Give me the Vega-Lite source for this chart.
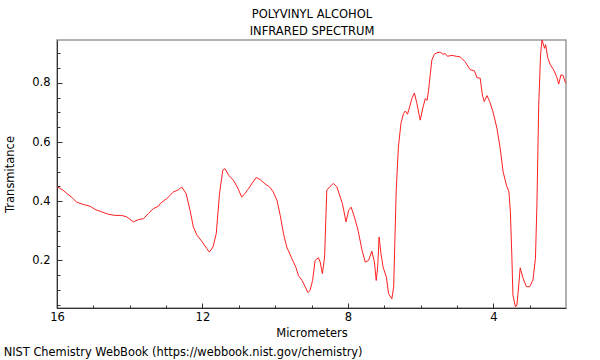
{
  "$schema": "https://vega.github.io/schema/vega-lite/v6.json",
  "width": 509,
  "height": 268,
  "autosize": "none",
  "padding": {"left": 57, "top": 40, "right": 34, "bottom": 52},
  "background": "white",
  "config": {
    "font": "DejaVu Sans",
    "view": {"stroke": "#999999", "strokeWidth": 1.5},
    "axis": {"labelFont": "DejaVu Sans", "titleFont": "DejaVu Sans", "labelColor": "#000000", "titleColor": "#000000", "titleFontWeight": "normal", "labelFontSize": 11.5, "titleFontSize": 11.5, "domainColor": "#333333", "tickColor": "#333333", "grid": false}
  },
  "title": {
    "text": "NIST Chemistry WebBook (https://webbook.nist.gov/chemistry)",
    "orient": "bottom",
    "anchor": "start",
    "frame": "bounds",
    "font": "DejaVu Sans",
    "fontSize": 11.4,
    "fontWeight": "normal",
    "color": "#000000",
    "offset": 8,
    "dx": -1
  },
  "data": {
    "values": [
      {"um": 16.0, "t": 0.45}, {"um": 15.98, "t": 0.448}, {"um": 15.83, "t": 0.437}, {"um": 15.73, "t": 0.426},
      {"um": 15.6, "t": 0.414}, {"um": 15.46, "t": 0.397}, {"um": 15.28, "t": 0.389}, {"um": 15.18, "t": 0.386},
      {"um": 15.09, "t": 0.383}, {"um": 14.95, "t": 0.372}, {"um": 14.77, "t": 0.364}, {"um": 14.59, "t": 0.356},
      {"um": 14.4, "t": 0.352}, {"um": 14.22, "t": 0.352}, {"um": 14.08, "t": 0.347}, {"um": 13.9, "t": 0.33},
      {"um": 13.76, "t": 0.338}, {"um": 13.62, "t": 0.341}, {"um": 13.49, "t": 0.358}, {"um": 13.35, "t": 0.375},
      {"um": 13.21, "t": 0.383}, {"um": 13.16, "t": 0.392}, {"um": 13.05, "t": 0.403}, {"um": 12.98, "t": 0.409},
      {"um": 12.8, "t": 0.431}, {"um": 12.66, "t": 0.439}, {"um": 12.57, "t": 0.448}, {"um": 12.45, "t": 0.426},
      {"um": 12.34, "t": 0.369}, {"um": 12.25, "t": 0.313}, {"um": 12.15, "t": 0.285}, {"um": 12.02, "t": 0.265},
      {"um": 11.88, "t": 0.24}, {"um": 11.81, "t": 0.228}, {"um": 11.71, "t": 0.245}, {"um": 11.62, "t": 0.29},
      {"um": 11.53, "t": 0.426}, {"um": 11.44, "t": 0.505}, {"um": 11.38, "t": 0.51}, {"um": 11.28, "t": 0.488},
      {"um": 11.15, "t": 0.471}, {"um": 11.04, "t": 0.448}, {"um": 10.92, "t": 0.414}, {"um": 10.83, "t": 0.426},
      {"um": 10.73, "t": 0.443}, {"um": 10.61, "t": 0.465}, {"um": 10.52, "t": 0.48}, {"um": 10.41, "t": 0.473},
      {"um": 10.27, "t": 0.458}, {"um": 10.15, "t": 0.448}, {"um": 10.05, "t": 0.431}, {"um": 9.95, "t": 0.403},
      {"um": 9.86, "t": 0.352}, {"um": 9.77, "t": 0.29}, {"um": 9.68, "t": 0.245}, {"um": 9.54, "t": 0.206},
      {"um": 9.43, "t": 0.177}, {"um": 9.36, "t": 0.149}, {"um": 9.26, "t": 0.132}, {"um": 9.17, "t": 0.11},
      {"um": 9.1, "t": 0.091}, {"um": 9.04, "t": 0.098}, {"um": 8.97, "t": 0.132}, {"um": 8.9, "t": 0.2},
      {"um": 8.81, "t": 0.209}, {"um": 8.76, "t": 0.194}, {"um": 8.7, "t": 0.155}, {"um": 8.64, "t": 0.211},
      {"um": 8.58, "t": 0.437}, {"um": 8.49, "t": 0.45}, {"um": 8.4, "t": 0.46}, {"um": 8.3, "t": 0.448},
      {"um": 8.21, "t": 0.414}, {"um": 8.15, "t": 0.392}, {"um": 8.05, "t": 0.33}, {"um": 7.98, "t": 0.369},
      {"um": 7.91, "t": 0.38}, {"um": 7.82, "t": 0.347}, {"um": 7.72, "t": 0.302}, {"um": 7.61, "t": 0.234},
      {"um": 7.52, "t": 0.194}, {"um": 7.43, "t": 0.2}, {"um": 7.34, "t": 0.231}, {"um": 7.27, "t": 0.195},
      {"um": 7.22, "t": 0.132}, {"um": 7.18, "t": 0.177}, {"um": 7.14, "t": 0.279}, {"um": 7.09, "t": 0.223},
      {"um": 7.03, "t": 0.177}, {"um": 6.94, "t": 0.143}, {"um": 6.88, "t": 0.087}, {"um": 6.79, "t": 0.07},
      {"um": 6.74, "t": 0.11}, {"um": 6.67, "t": 0.437}, {"um": 6.61, "t": 0.583}, {"um": 6.54, "t": 0.663},
      {"um": 6.47, "t": 0.696}, {"um": 6.42, "t": 0.705}, {"um": 6.36, "t": 0.694}, {"um": 6.3, "t": 0.719},
      {"um": 6.24, "t": 0.747}, {"um": 6.17, "t": 0.766}, {"um": 6.1, "t": 0.73}, {"um": 6.01, "t": 0.674},
      {"um": 5.93, "t": 0.719}, {"um": 5.87, "t": 0.747}, {"um": 5.82, "t": 0.741}, {"um": 5.78, "t": 0.775},
      {"um": 5.73, "t": 0.832}, {"um": 5.69, "t": 0.877}, {"um": 5.62, "t": 0.897}, {"um": 5.55, "t": 0.902},
      {"um": 5.46, "t": 0.904}, {"um": 5.38, "t": 0.897}, {"um": 5.32, "t": 0.899}, {"um": 5.26, "t": 0.89},
      {"um": 5.14, "t": 0.893}, {"um": 5.02, "t": 0.89}, {"um": 4.91, "t": 0.888}, {"um": 4.77, "t": 0.871},
      {"um": 4.64, "t": 0.845}, {"um": 4.52, "t": 0.841}, {"um": 4.45, "t": 0.818}, {"um": 4.36, "t": 0.816},
      {"um": 4.3, "t": 0.759}, {"um": 4.25, "t": 0.737}, {"um": 4.17, "t": 0.757}, {"um": 4.1, "t": 0.737},
      {"um": 4.01, "t": 0.703}, {"um": 3.9, "t": 0.647}, {"um": 3.81, "t": 0.579}, {"um": 3.73, "t": 0.5},
      {"um": 3.64, "t": 0.455}, {"um": 3.57, "t": 0.432}, {"um": 3.53, "t": 0.365}, {"um": 3.49, "t": 0.218},
      {"um": 3.46, "t": 0.083}, {"um": 3.39, "t": 0.043}, {"um": 3.35, "t": 0.049}, {"um": 3.3, "t": 0.116},
      {"um": 3.26, "t": 0.175}, {"um": 3.18, "t": 0.139}, {"um": 3.09, "t": 0.111}, {"um": 3.0, "t": 0.111},
      {"um": 2.91, "t": 0.133}, {"um": 2.84, "t": 0.207}, {"um": 2.8, "t": 0.387}, {"um": 2.75, "t": 0.726},
      {"um": 2.7, "t": 0.895}, {"um": 2.66, "t": 0.946}, {"um": 2.59, "t": 0.917}, {"um": 2.56, "t": 0.929},
      {"um": 2.5, "t": 0.884}, {"um": 2.43, "t": 0.861}, {"um": 2.34, "t": 0.844}, {"um": 2.26, "t": 0.822},
      {"um": 2.2, "t": 0.796}, {"um": 2.14, "t": 0.827}, {"um": 2.08, "t": 0.825}, {"um": 2.01, "t": 0.799}
    ]
  },
  "layer": [
    {
      "mark": {"type": "line", "color": "#ff2020", "strokeWidth": 1, "clip": true},
      "encoding": {
        "x": {
          "field": "um", "type": "quantitative",
          "scale": {"domain": [16, 2], "nice": false, "zero": false},
          "axis": {
            "orient": "bottom",
            "title": "Micrometers",
            "titlePadding": 3,
            "values": [3, 4, 5, 6, 7, 8, 9, 10, 11, 12, 13, 14, 15, 16],
            "labelExpr": "datum.value % 4 == 0 ? datum.value : ''",
            "tickSize": {"condition": {"test": "datum.value % 4 == 0", "value": -5}, "value": -3},
            "labelPadding": 8,
            "labelFlush": false,
            "labelOverlap": false
          }
        },
        "y": {
          "field": "t", "type": "quantitative",
          "scale": {"domain": [0.039, 0.945], "nice": false, "zero": false},
          "axis": {
            "orient": "left",
            "title": "Transmitance",
            "titlePadding": 16,
            "values": [0.05, 0.1, 0.15, 0.2, 0.25, 0.3, 0.35, 0.4, 0.45, 0.5, 0.55, 0.6, 0.65, 0.7, 0.75, 0.8, 0.85, 0.9],
            "labelExpr": "round(datum.value * 100) % 20 == 0 ? format(datum.value, '.1f') : ''",
            "tickSize": {"condition": {"test": "round(datum.value * 100) % 20 == 0", "value": -5}, "value": -3},
            "labelPadding": 12,
            "labelFlush": false,
            "labelOverlap": false
          }
        }
      }
    },
    {
      "mark": {"type": "line", "opacity": 0, "clip": true},
      "encoding": {
        "x": {
          "field": "um", "type": "quantitative",
          "axis": {
            "orient": "top",
            "title": ["POLYVINYL ALCOHOL", "INFRARED SPECTRUM"],
            "titleLineHeight": 17,
            "titlePadding": 4,
            "domain": false, "ticks": false, "labels": false
          }
        }
      }
    }
  ],
  "resolve": {"axis": {"x": "independent"}}
}
